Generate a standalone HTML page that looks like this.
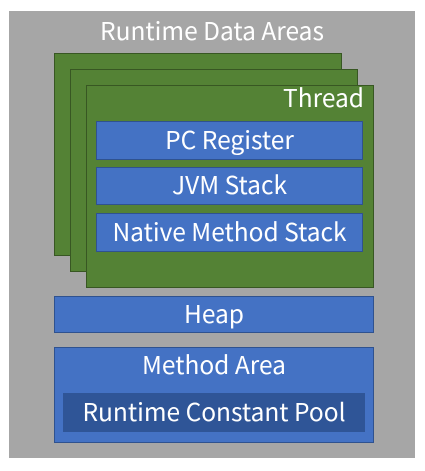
<!DOCTYPE html>
<html><head><style>
body{margin:0;width:425px;height:471px;background:#fff;position:relative;font-family:"Noto Sans CJK KR","Liberation Sans",sans-serif;}
div{position:absolute;box-sizing:border-box;color:#fff;text-align:center;}
.g{background:#548235;border:1px solid #385723;}
.b{background:#4472c4;border:1px solid #2f528f;font-size:24.5px;}
</style></head><body>
<div style="left:9px;top:14px;width:406px;font-size:24.5px;line-height:34px;">Runtime Data Areas</div>
<div style="left:9px;top:11px;width:406px;height:447px;background:#a6a6a6;z-index:-1;"></div>
<div class="g" style="left:54px;top:53px;width:288px;height:203px;"></div>
<div class="g" style="left:70px;top:69px;width:288px;height:203px;"></div>
<div class="g" style="left:86px;top:85px;width:288px;height:203px;"></div>
<div style="left:230px;top:82px;width:134px;text-align:right;font-size:24.5px;line-height:32px;">Thread</div>
<div class="b" style="left:96px;top:121px;width:267px;height:39px;line-height:35px;">PC Register</div>
<div class="b" style="left:96px;top:167px;width:267px;height:38px;line-height:34px;">JVM Stack</div>
<div class="b" style="left:96px;top:213px;width:267px;height:39px;line-height:35px;">Native Method Stack</div>
<div class="b" style="left:54px;top:296px;width:320px;height:37px;line-height:33px;">Heap</div>
<div class="b" style="left:54px;top:347px;width:320px;height:96px;"></div>
<div style="left:54px;top:349px;width:320px;font-size:24.5px;line-height:32px;">Method Area</div>
<div style="left:63px;top:393px;width:302px;height:39px;background:#2f5597;font-size:24.5px;line-height:37px;">Runtime Constant Pool</div>
</body></html>
